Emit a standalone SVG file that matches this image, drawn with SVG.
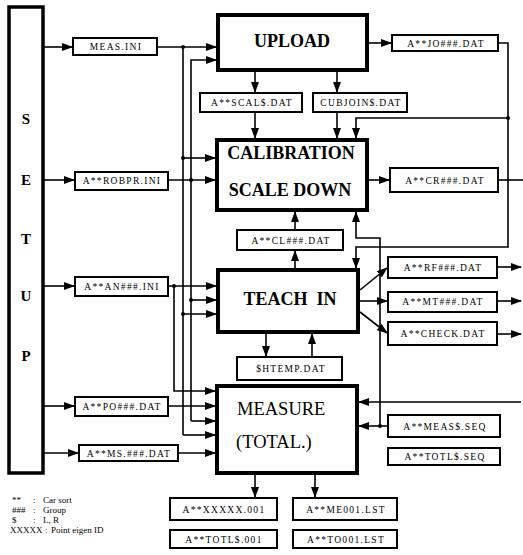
<svg xmlns="http://www.w3.org/2000/svg" width="523" height="555" viewBox="0 0 523 555">
<style>
.big{fill:#fff;stroke:#000;stroke-width:4}
.box{fill:#fff;stroke:#000;stroke-width:2}
.bar{fill:#fff;stroke:#000;stroke-width:3.5}
.t{font-family:"Liberation Serif","Times New Roman",serif;font-size:9.5px;letter-spacing:1.3px;fill:#000;text-anchor:middle}
.bt{font-family:"Liberation Serif","Times New Roman",serif;font-size:18px;font-weight:bold;fill:#000;text-anchor:middle}
.mt{font-family:"Liberation Serif","Times New Roman",serif;font-size:18.5px;fill:#000}
.st{font-family:"Liberation Serif","Times New Roman",serif;font-size:15px;font-weight:bold;fill:#000;text-anchor:middle}
.lg{font-family:"Liberation Serif","Times New Roman",serif;font-size:9px;fill:#000}
.c line,.c polyline{stroke:#000;stroke-width:1.6;fill:none}
.a{marker-end:url(#ah)}
.d{fill:#000}
</style>
<defs>
<marker id="ah" markerUnits="userSpaceOnUse" markerWidth="11" markerHeight="8" refX="10" refY="4" orient="auto">
<path d="M0,0 L11,4 L0,8 z" fill="#000"/>
</marker>
</defs>

<g id="connectors" class="c">
<line class="a" x1="43" y1="47" x2="72" y2="47"/>
<line class="a" x1="157" y1="47" x2="216" y2="47"/>
<line x1="183" y1="47" x2="183" y2="435"/>
<polyline class="a" points="191,421 191,60 216,60"/>
<line class="a" x1="183" y1="158" x2="215" y2="158"/>
<line class="a" x1="43" y1="180" x2="74" y2="180"/>
<line class="a" x1="168" y1="180" x2="215" y2="180"/>
<line class="a" x1="43" y1="286" x2="74" y2="286"/>
<line class="a" x1="168" y1="286" x2="216" y2="286"/>
<polyline class="a" points="174,286 174,391 215,391"/>
<line class="a" x1="191" y1="300" x2="216" y2="300"/>
<line class="a" x1="183" y1="314" x2="216" y2="314"/>
<line class="a" x1="43" y1="406" x2="74" y2="406"/>
<line class="a" x1="168" y1="406" x2="215" y2="406"/>
<line class="a" x1="191" y1="421" x2="215" y2="421"/>
<line class="a" x1="183" y1="435" x2="215" y2="435"/>
<line class="a" x1="43" y1="453" x2="78" y2="453"/>
<line class="a" x1="178" y1="453" x2="215" y2="453"/>
<line class="a" x1="255" y1="72" x2="255" y2="92"/>
<line class="a" x1="255" y1="112" x2="255" y2="138"/>
<line class="a" x1="337" y1="72" x2="337" y2="92"/>
<line class="a" x1="337" y1="112" x2="337" y2="138"/>
<line class="a" x1="369" y1="43" x2="391" y2="43"/>
<polyline class="a" points="498,43 508,43 508,247 356,247 356,268"/>
<polyline class="a" points="508,118 356,118 356,138"/>
<line class="a" x1="369" y1="180" x2="389" y2="180"/>
<line x1="498" y1="180" x2="523" y2="180"/>
<line class="a" x1="295" y1="230" x2="295" y2="212"/>
<line class="a" x1="295" y1="268" x2="295" y2="251"/>
<polyline class="a" points="380,426 380,238 356,238 356,212"/>
<line class="a" x1="388" y1="426" x2="359" y2="426"/>
<line class="a" x1="521" y1="402" x2="359" y2="402"/>
<line class="a" x1="360" y1="290" x2="387" y2="268"/>
<line class="a" x1="360" y1="301" x2="387" y2="301"/>
<line class="a" x1="360" y1="312" x2="387" y2="333"/>
<line class="a" x1="497" y1="267" x2="521" y2="267"/>
<line class="a" x1="497" y1="301" x2="521" y2="301"/>
<line class="a" x1="497" y1="334" x2="521" y2="334"/>
<line class="a" x1="266" y1="334" x2="266" y2="356"/>
<line class="a" x1="312" y1="357" x2="312" y2="334"/>
<line class="a" x1="255" y1="475" x2="255" y2="497"/>
<line class="a" x1="315" y1="475" x2="315" y2="497"/>
</g>
<g id="junctions">
<circle class="d" cx="183" cy="47" r="2"/>
<circle class="d" cx="183" cy="158" r="2"/>
<circle class="d" cx="191" cy="180" r="2"/>
<circle class="d" cx="174" cy="286" r="2"/>
<circle class="d" cx="191" cy="300" r="2"/>
<circle class="d" cx="183" cy="314" r="2"/>
<circle class="d" cx="508" cy="118" r="2"/>
<circle class="d" cx="380" cy="426" r="2"/>
</g>

<g id="setup"><rect class="bar" x="9" y="7" width="34" height="466"/>
<text class="st" x="26" y="124">S</text><text class="st" x="26" y="185">E</text><text class="st" x="26" y="244">T</text><text class="st" x="26" y="301">U</text><text class="st" x="26" y="361">P</text></g>

<g id="upload"><rect class="big" x="218" y="15" width="149" height="55"/><text class="bt" x="292" y="47">UPLOAD</text></g>
<g id="calibration"><rect class="big" x="217" y="140" width="150" height="70"/><text class="bt" x="291" y="159">CALIBRATION</text><text class="bt" x="290" y="196">SCALE DOWN</text></g>
<g id="teachin"><rect class="big" x="218" y="270" width="140" height="62"/><text class="bt" x="290" y="305" xml:space="preserve">TEACH  IN</text></g>
<g id="measure"><rect class="big" x="217" y="386" width="140" height="87"/><text class="mt" x="237" y="415">MEASURE</text><text class="mt" x="236" y="448">(TOTAL.)</text></g>

<g id="meas_ini"><rect class="box" x="73" y="38" width="84" height="17"/><text class="t" x="116" y="50">MEAS.INI</text></g>
<g id="robpr"><rect class="box" x="75" y="172" width="93" height="18"/><text class="t" x="122" y="184">A**ROBPR.INI</text></g>
<g id="an"><rect class="box" x="75" y="277" width="93" height="19"/><text class="t" x="122" y="290">A**AN###.INI</text></g>
<g id="po"><rect class="box" x="75" y="397" width="93" height="19"/><text class="t" x="122" y="410">A**PO###.DAT</text></g>
<g id="ms"><rect class="box" x="79" y="445" width="99" height="16"/><text class="t" x="129" y="457">A**MS.###.DAT</text></g>
<g id="scal"><rect class="box" x="200" y="93" width="102" height="19"/><text class="t" x="252" y="106">A**SCAL$.DAT</text></g>
<g id="cubjoin"><rect class="box" x="313" y="93" width="94" height="19"/><text class="t" x="361" y="106">CUBJOIN$.DAT</text></g>
<g id="jo"><rect class="box" x="392" y="35" width="106" height="16"/><text class="t" x="446" y="47">A**JO###.DAT</text></g>
<g id="cr"><rect class="box" x="390" y="168" width="108" height="24"/><text class="t" x="445" y="184">A**CR###.DAT</text></g>
<g id="cl"><rect class="box" x="237" y="230" width="106" height="20"/><text class="t" x="291" y="244">A**CL###.DAT</text></g>
<g id="rf"><rect class="box" x="388" y="257" width="109" height="21"/><text class="t" x="443" y="271">A**RF###.DAT</text></g>
<g id="mt"><rect class="box" x="388" y="292" width="109" height="20"/><text class="t" x="443" y="305">A**MT###.DAT</text></g>
<g id="check"><rect class="box" x="388" y="322" width="109" height="23"/><text class="t" x="443" y="337">A**CHECK.DAT</text></g>
<g id="htemp"><rect class="box" x="237" y="357" width="105" height="23"/><text class="t" x="291" y="372">$HTEMP.DAT</text></g>
<g id="meas_seq"><rect class="box" x="388" y="415" width="112" height="22"/><text class="t" x="445" y="430">A**MEAS$.SEQ</text></g>
<g id="totl_seq"><rect class="box" x="388" y="448" width="112" height="17"/><text class="t" x="445" y="460">A**TOTL$.SEQ</text></g>
<g id="xxxxx"><rect class="box" x="170" y="498" width="107" height="22"/><text class="t" x="224" y="513">A**XXXXX.001</text></g>
<g id="totl_001"><rect class="box" x="170" y="530" width="107" height="18"/><text class="t" x="224" y="543">A**TOTL$.001</text></g>
<g id="me001"><rect class="box" x="293" y="498" width="104" height="22"/><text class="t" x="346" y="513">A**ME001.LST</text></g>
<g id="to001"><rect class="box" x="293" y="530" width="104" height="18"/><text class="t" x="346" y="543">A**TO001.LST</text></g>

<g id="legend">
<text class="lg" x="12" y="503">**</text><text class="lg" x="33" y="503">:</text><text class="lg" x="43" y="503">Car sort</text>
<text class="lg" x="12" y="513">###</text><text class="lg" x="33" y="513">:</text><text class="lg" x="43" y="513">Group</text>
<text class="lg" x="12" y="523">$</text><text class="lg" x="33" y="523">:</text><text class="lg" x="43" y="523">L,  R</text>
<text class="lg" x="10" y="533">XXXXX</text><text class="lg" x="45" y="533">:</text><text class="lg" x="51" y="533">Point eigen ID</text>
</g>
</svg>
